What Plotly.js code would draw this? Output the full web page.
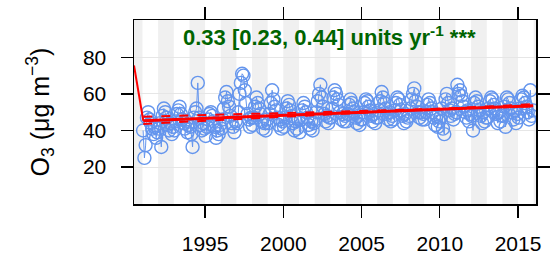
<!DOCTYPE html>
<html>
<head>
<meta charset="utf-8">
<script src="https://cdn.plot.ly/plotly-3.0.1.min.js"></script>
<style>html,body{margin:0;padding:0;background:#fff;}#chart{width:550px;height:254px;}</style>
</head>
<body>
<div id="chart"></div>
<script>
// Monthly O3 values (ug m-3), Jan..Dec for each year
const years = [1991,1992,1993,1994,1995,1996,1997,1998,1999,2000,2001,2002,2003,2004,2005,2006,2007,2008,2009,2010,2011,2012,2013,2014,2015];
const o3_1991 = [40, 25, 32, 47, 50, 46, 44, 41, 38, 42, 36, 39];
const o3_1992 = [41, 44, 31, 48, 52, 50, 47, 43, 40, 44, 38, 42];
const o3_1993 = [40, 45, 49, 51, 53, 49, 46, 44, 41, 45, 39, 43];
const o3_1994 = [42, 38, 31, 47, 50, 52, 66, 47, 43, 40, 44, 41];
const o3_1995 = [37, 42, 46, 49, 50, 48, 45, 42, 36, 40, 38, 43];
const o3_1996 = [41, 46, 52, 58, 61, 56, 53, 48, 44, 42, 39, 45];
const o3_1997 = [44, 50, 60, 66, 71, 70, 62, 55, 49, 46, 42, 47];
const o3_1998 = [43, 47, 53, 58, 55, 52, 49, 45, 41, 44, 40, 46];
const o3_1999 = [44, 49, 55, 62, 57, 53, 51, 47, 43, 46, 41, 45];
const o3_2000 = [42, 47, 52, 56, 54, 51, 48, 44, 40, 45, 41, 46];
const o3_2001 = [39, 46, 51, 55, 53, 50, 47, 43, 41, 45, 40, 44];
const o3_2002 = [46, 50, 56, 60, 65, 58, 53, 49, 45, 48, 44, 47];
const o3_2003 = [47, 52, 58, 62, 60, 57, 54, 50, 46, 49, 45, 48];
const o3_2004 = [45, 49, 54, 57, 55, 52, 50, 47, 44, 48, 43, 46];
const o3_2005 = [46, 50, 55, 57, 56, 53, 51, 48, 45, 49, 44, 47];
const o3_2006 = [47, 51, 56, 61, 58, 55, 52, 49, 46, 50, 45, 48];
const o3_2007 = [46, 51, 55, 58, 57, 54, 51, 48, 44, 49, 45, 47];
const o3_2008 = [48, 52, 57, 60, 63, 56, 53, 50, 47, 50, 46, 49];
const o3_2009 = [46, 50, 54, 57, 55, 52, 50, 47, 43, 48, 42, 45];
const o3_2010 = [47, 52, 41, 38, 57, 60, 55, 51, 48, 52, 46, 49];
const o3_2011 = [50, 65, 60, 62, 59, 56, 53, 50, 47, 51, 45, 49];
const o3_2012 = [48, 40, 55, 58, 56, 53, 51, 48, 44, 50, 45, 47];
const o3_2013 = [47, 52, 56, 58, 57, 54, 52, 49, 44, 50, 45, 48];
const o3_2014 = [48, 53, 42, 58, 57, 55, 52, 50, 46, 51, 44, 49];
const o3_2015 = [47, 52, 57, 59, 58, 55, 53, 50, 46, 62, 48, 51];
const o3ByYear = [o3_1991,o3_1992,o3_1993,o3_1994,o3_1995,o3_1996,o3_1997,o3_1998,o3_1999,o3_2000,o3_2001,o3_2002,o3_2003,o3_2004,o3_2005,o3_2006,o3_2007,o3_2008,o3_2009,o3_2010,o3_2011,o3_2012,o3_2013,o3_2014,o3_2015];

// Theil-Sen trend lines (endpoints)
const trendX = ["1991-01-20", "2015-12-20"];
const trendY = [45.3, 53.5];
const lowerX = ["1991-01-20", "2015-12-20"];
const lowerY = [47.5, 53.2];
const upperX = ["1991-01-20", "2015-12-20"];
const upperY = [43.6, 54.4];
const edgeX = ["1990-06-17", "1991-01-20"];
const edgeY = [75.5, 45.3];

// Axis ticks / labels
const xTickVals = ["1995-01-01","2000-01-01","2005-01-01","2010-01-01","2015-01-01"];
const xTickText = ["1995","2000","2005","2010","2015"];
const yTickVals = [20, 40, 60, 80];
const shadedYears = [1990,1992,1994,1996,1998,2000,2002,2004,2006,2008,2010,2012,2014,2016];
const trendLabel = "0.33 [0.23, 0.44] units yr<sup>-1</sup> ***";

const xs = [], ys = [];
years.forEach((yr, i) => {
  o3ByYear[i].forEach((v, m) => {
    xs.push(yr + "-" + String(m + 1).padStart(2, "0") + "-15");
    ys.push(v);
  });
});

const blue = "#6495ED";
const traces = [
  {x: xs, y: ys, type: "scatter", mode: "lines+markers",
   line: {color: blue, width: 1}, marker: {symbol: "circle-open", size: 13, color: blue, line: {width: 1.4, color: blue}}, hoverinfo: "skip"},
  {x: lowerX, y: lowerY, type: "scatter", mode: "lines", line: {color: "#FF0000", width: 2, dash: "dash"}},
  {x: upperX, y: upperY, type: "scatter", mode: "lines", line: {color: "#FF0000", width: 2, dash: "dash"}},
  {x: trendX, y: trendY, type: "scatter", mode: "lines", line: {color: "#FF0000", width: 3}},
  {x: edgeX, y: edgeY, type: "scatter", mode: "lines", line: {color: "#FF0000", width: 2}}
];

const shapes = shadedYears.map(y => ({
  type: "rect", xref: "x", yref: "paper", layer: "below",
  x0: y + "-01-01", x1: (y + 1) + "-01-01", y0: 0, y1: 1,
  fillcolor: "#f0f0f0", line: {width: 0}
}));

const fam = "Liberation Sans, Arial, Helvetica, sans-serif";
const font = {family: fam, size: 21, color: "#000"};
const layout = {
  width: 550, height: 254,
  margin: {l: 134, r: 14, t: 20, b: 50},
  paper_bgcolor: "#fff", plot_bgcolor: "#fff",
  showlegend: false,
  font: font,
  shapes: shapes,
  xaxis: {
    type: "date", range: ["1990-06-17", "2016-02-24"],
    tickvals: xTickVals, ticktext: xTickText,
    ticks: "outside", ticklen: 12, tickwidth: 1.3, tickcolor: "#000",
    showline: true, linecolor: "#000", linewidth: 1.5, mirror: "ticks",
    showgrid: false, zeroline: false, ticklabelstandoff: 8,
    tickfont: font
  },
  yaxis: {
    range: [-0.2, 100.4],
    tickvals: yTickVals,
    ticks: "outside", ticklen: 12, tickwidth: 1.3, tickcolor: "#000",
    showline: true, linecolor: "#000", linewidth: 1.5, mirror: "ticks",
    showgrid: true, gridcolor: "#e6e6e6", gridwidth: 1, zeroline: false,
    ticklabelstandoff: 10, tickfont: font,
    title: {text: "O<sub>3</sub> (μg m<sup>−3</sup>)", font: {family: fam, size: 25, color: "#000"}, standoff: 26}
  },
  annotations: [{
    xref: "paper", yref: "paper", x: 0.487, y: 0.912, xanchor: "center", yanchor: "middle",
    text: trendLabel, showarrow: false,
    font: {family: fam, size: 22, color: "#006400", weight: "bold"}
  }]
};

Plotly.newPlot("chart", traces, layout, {staticPlot: true, displayModeBar: false});
</script>
</body>
</html>
